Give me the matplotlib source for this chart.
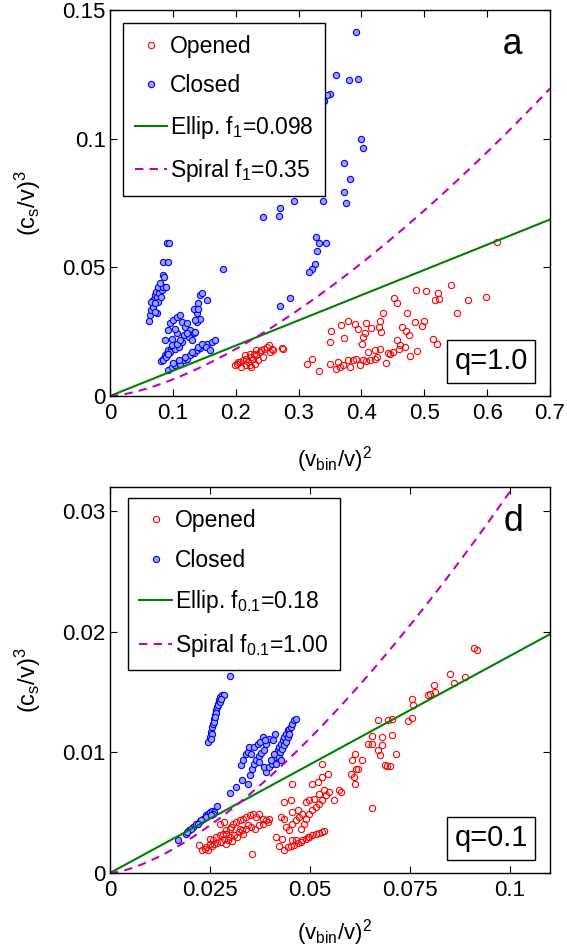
import numpy as np
import matplotlib
matplotlib.use("Agg")
import matplotlib.pyplot as plt
from matplotlib.ticker import FixedLocator, FixedFormatter

# ---------------- panel a (q = 1.0) ----------------
open_a_x = [0.199, 0.2015, 0.207, 0.212, 0.217, 0.220, 0.223, 0.225, 0.229, 0.233, 0.238, 0.241,
            0.245, 0.249, 0.2535, 0.257, 0.260, 0.2545, 0.244, 0.236, 0.231, 0.225, 0.217, 0.209,
            0.204, 0.215, 0.222, 0.228, 0.233, 0.273, 0.275,
            0.313, 0.322, 0.3325, 0.350, 0.362, 0.3595, 0.366, 0.371, 0.379, 0.382, 0.387, 0.392,
            0.398, 0.403, 0.408, 0.414, 0.4215, 0.424, 0.439, 0.445, 0.451, 0.411, 0.4215, 0.430,
            0.456, 0.461, 0.469, 0.477, 0.488, 0.514, 0.520, 0.352, 0.350, 0.367, 0.378, 0.373,
            0.395, 0.390, 0.408, 0.415, 0.403, 0.406, 0.401, 0.430, 0.428, 0.431, 0.434, 0.452,
            0.456, 0.472, 0.487, 0.503, 0.517, 0.522, 0.523, 0.542, 0.5515, 0.570, 0.598, 0.615,
            0.464, 0.471, 0.476, 0.486, 0.500, 0.496, 0.459, 0.443]
open_a_y = [0.0119, 0.0126, 0.0132, 0.0139, 0.0145, 0.0132, 0.0119, 0.0152, 0.0165, 0.0158, 0.0171, 0.0178,
            0.0184, 0.0191, 0.0197, 0.0184, 0.0178, 0.0171, 0.0152, 0.0139, 0.0126, 0.0113, 0.0119, 0.0113,
            0.0132, 0.0158, 0.0165, 0.0145, 0.0178, 0.0187, 0.0184,
            0.0126, 0.0143, 0.0096, 0.0123, 0.0132, 0.0106, 0.0113, 0.0119, 0.0139, 0.0113, 0.0139, 0.0145,
            0.0119, 0.0139, 0.0136, 0.0139, 0.0145, 0.0152, 0.0129, 0.0165, 0.0171, 0.0171, 0.0178, 0.0184,
            0.0217, 0.0197, 0.0191, 0.0155, 0.0175, 0.0223, 0.0201, 0.0253, 0.0210, 0.0275, 0.0292, 0.0227,
            0.0262, 0.0279, 0.0282, 0.0266, 0.0230, 0.0243, 0.0204, 0.0292, 0.0269, 0.0249, 0.0321, 0.0379,
            0.0360, 0.0321, 0.0412, 0.0409, 0.0375, 0.0399, 0.0377, 0.0431, 0.0321, 0.0375, 0.0383, 0.0600,
            0.0269, 0.0252, 0.0239, 0.0288, 0.0291, 0.0271, 0.0184, 0.0168]

closed_a_x = [0.392, 0.360, 0.380, 0.394, 0.350, 0.345, 0.340, 0.338, 0.331, 0.400, 0.402, 0.373,
              0.382, 0.373, 0.375, 0.339, 0.296, 0.276, 0.293, 0.270, 0.269, 0.243,
              0.328, 0.333, 0.343, 0.329, 0.326, 0.322, 0.316, 0.179, 0.270, 0.287,
              0.062, 0.064, 0.066, 0.069, 0.069, 0.072, 0.073, 0.075, 0.078, 0.077, 0.081, 0.082,
              0.074, 0.071, 0.066, 0.072, 0.077, 0.085, 0.080, 0.085, 0.086, 0.089, 0.085, 0.093,
              0.090, 0.094,
              0.081, 0.084, 0.0875, 0.090, 0.093, 0.0965, 0.101, 0.105, 0.110, 0.114, 0.085, 0.089,
              0.0955, 0.103, 0.109, 0.098, 0.106, 0.093,
              0.092, 0.098, 0.103, 0.111, 0.117, 0.122, 0.127, 0.133, 0.138, 0.143, 0.148, 0.155,
              0.162, 0.167, 0.101, 0.109, 0.119, 0.130, 0.1405, 0.146, 0.153, 0.159,
              0.0875, 0.093, 0.0955, 0.101, 0.106, 0.111, 0.114, 0.119, 0.123, 0.127, 0.133, 0.125,
              0.117, 0.106, 0.098, 0.111, 0.103, 0.122, 0.130, 0.135, 0.138, 0.1405, 0.143, 0.146,
              0.134, 0.1405, 0.139, 0.143, 0.154, 0.136]
closed_a_y = [0.1416, 0.1248, 0.1230, 0.1232, 0.1174, 0.1171, 0.1145, 0.1136, 0.1126, 0.0999, 0.0964, 0.0905,
              0.0844, 0.0791, 0.0749, 0.0758, 0.0806, 0.0788, 0.0758, 0.0729, 0.0700, 0.0694,
              0.0617, 0.0596, 0.0594, 0.0564, 0.0512, 0.0495, 0.0482, 0.0492, 0.0351, 0.0382,
              0.0292, 0.0314, 0.0334, 0.0347, 0.0373, 0.0392, 0.0405, 0.0386, 0.0399, 0.0366, 0.0386, 0.0412,
              0.0321, 0.0325, 0.0366, 0.0360, 0.0425, 0.0422, 0.0438, 0.0469, 0.0464, 0.0422, 0.0522, 0.0519,
              0.0594, 0.0594,
              0.0136, 0.0145, 0.0158, 0.0168, 0.0178, 0.0184, 0.0191, 0.0197, 0.0204, 0.0210, 0.0139, 0.0152,
              0.0171, 0.0184, 0.0191, 0.0197, 0.0204, 0.0162,
              0.0100, 0.0113, 0.0119, 0.0126, 0.0139, 0.0145, 0.0158, 0.0168, 0.0178, 0.0188, 0.0197, 0.0204,
              0.0210, 0.0219, 0.0129, 0.0139, 0.0152, 0.0171, 0.0191, 0.0204, 0.0191, 0.0178,
              0.0217, 0.0256, 0.0282, 0.0295, 0.0308, 0.0314, 0.0288, 0.0269, 0.0282, 0.0256, 0.0243, 0.0230,
              0.0236, 0.0243, 0.0223, 0.0217, 0.0262, 0.0243, 0.0217, 0.0249, 0.0321, 0.0360, 0.0392, 0.0399,
              0.0340, 0.0340, 0.0288, 0.0301, 0.0373, 0.0295]

# ---------------- panel d (q = 0.1) ----------------
open_d_x = [0.0222, 0.0231, 0.0241, 0.0249, 0.0257, 0.0266, 0.0274, 0.0282, 0.0290, 0.0299, 0.0307, 0.0315,
            0.0324, 0.0332, 0.0340, 0.0349, 0.0357, 0.0365, 0.0373, 0.0382, 0.0390, 0.0398, 0.0249, 0.0261,
            0.0278, 0.0289, 0.0299, 0.0311, 0.0322, 0.0330, 0.0340, 0.0353, 0.0363, 0.0373, 0.0383, 0.0394,
            0.0237, 0.0245, 0.0256, 0.0267, 0.0284, 0.0295, 0.0305, 0.0317, 0.0332, 0.0344, 0.0355, 0.0274,
            0.0286, 0.0303, 0.0324, 0.0290,
            0.0422, 0.0436, 0.0444, 0.0452, 0.0461, 0.0469, 0.0477, 0.0490, 0.0498, 0.0506, 0.0515, 0.0523,
            0.0531, 0.0535, 0.0455, 0.0465, 0.0481, 0.0494,
            0.0415, 0.0430, 0.0440, 0.0448, 0.0456, 0.0465, 0.0473, 0.0477, 0.0485, 0.0490, 0.0498, 0.0506,
            0.0515, 0.0523, 0.0531, 0.0539, 0.0548, 0.0490, 0.0498, 0.0510, 0.0523, 0.0535, 0.0436, 0.0452,
            0.0456, 0.0471, 0.0481, 0.0506, 0.0519, 0.0531, 0.0544, 0.0436, 0.0427, 0.0456, 0.0531, 0.0560,
            0.0573, 0.0577,
            0.0606, 0.0614, 0.0602, 0.0610, 0.0612, 0.0621, 0.0631, 0.0612, 0.0646, 0.0656, 0.0656, 0.0654,
            0.0671, 0.0674, 0.0680, 0.0679, 0.0687, 0.0693, 0.0699, 0.0705, 0.0714, 0.0671, 0.0695, 0.0704,
            0.0745, 0.0755, 0.0757, 0.0755, 0.0795, 0.0801, 0.0809, 0.0813, 0.0851, 0.0861, 0.0888, 0.0909,
            0.0917]
open_d_y = [0.00229, 0.00188, 0.00215, 0.00243, 0.00271, 0.00298, 0.00312, 0.00326, 0.00354, 0.00367, 0.00409, 0.00423,
            0.00436, 0.00450, 0.00464, 0.00478, 0.00486, 0.00464, 0.00492, 0.00450, 0.00436, 0.00450, 0.00285, 0.00238,
            0.00257, 0.00243, 0.00298, 0.00312, 0.00340, 0.00354, 0.00367, 0.00381, 0.00367, 0.00395, 0.00409, 0.00423,
            0.00202, 0.00188, 0.00221, 0.00249, 0.00285, 0.00271, 0.00265, 0.00298, 0.00326, 0.00395, 0.00160, 0.00409,
            0.00423, 0.00381, 0.00367, 0.00326,
            0.00221, 0.00193, 0.00215, 0.00221, 0.00229, 0.00249, 0.00257, 0.00285, 0.00298, 0.00312, 0.00320, 0.00331,
            0.00340, 0.00348, 0.00271, 0.00276, 0.00271, 0.00298,
            0.00298, 0.00285, 0.00381, 0.00354, 0.00409, 0.00436, 0.00464, 0.00367, 0.00409, 0.00450, 0.00492, 0.00519,
            0.00547, 0.00575, 0.00602, 0.00644, 0.00671, 0.00588, 0.00602, 0.00616, 0.00657, 0.00685, 0.00588, 0.00602,
            0.00506, 0.00519, 0.00492, 0.00740, 0.00754, 0.00796, 0.00823, 0.00450, 0.00464, 0.00740, 0.00906, 0.00602,
            0.00685, 0.00671,
            0.00934, 0.00865, 0.00818, 0.00796, 0.00740, 0.00865, 0.00934, 0.00989, 0.01072, 0.01072, 0.01138, 0.00541,
            0.01017, 0.00975, 0.01058, 0.01127, 0.00892, 0.00884, 0.00884, 0.01141, 0.00983, 0.01271, 0.01271, 0.01279,
            0.01260, 0.01287, 0.01390, 0.01445, 0.01472, 0.01481, 0.01561, 0.01500, 0.01646, 0.01575, 0.01624, 0.01867,
            0.01851]

closed_d_x = [0.0305, 0.0299, 0.02456, 0.02490, 0.02531, 0.02548, 0.02573, 0.02589, 0.02614, 0.02639, 0.02672,
              0.02697, 0.02722, 0.02755, 0.02805, 0.02838, 0.02556, 0.02606, 0.02656, 0.02705, 0.02739, 0.02780,
              0.02515, 0.02631,
              0.0300, 0.0315, 0.0330, 0.0344, 0.0349, 0.0355, 0.0359, 0.0365, 0.0372, 0.0378, 0.0386, 0.0390,
              0.0397, 0.0407, 0.0413, 0.0328, 0.0332, 0.0339, 0.0344, 0.0347, 0.0353, 0.0361, 0.0369, 0.0375,
              0.0382, 0.0388, 0.0390, 0.0384, 0.0373,
              0.0398, 0.0405, 0.0408, 0.0413, 0.0415, 0.0419, 0.0423, 0.0427, 0.0432, 0.0436, 0.0440, 0.0444,
              0.0448, 0.0452, 0.0456, 0.0461, 0.0466, 0.0402, 0.0411, 0.0415, 0.0422, 0.0425, 0.0430, 0.0436,
              0.0440, 0.0444, 0.0448, 0.0427,
              0.0170, 0.0189, 0.0198, 0.0207, 0.0216, 0.0224, 0.0232, 0.0239, 0.0245, 0.0249, 0.0256, 0.0261,
              0.0267, 0.0241, 0.0228, 0.0220, 0.0203, 0.0193, 0.0257, 0.0253]
closed_d_y = [0.01707, 0.01630, 0.01086, 0.01127, 0.01169, 0.01210, 0.01238, 0.01279, 0.01307, 0.01348, 0.01376,
              0.01403, 0.01431, 0.01459, 0.01472, 0.01472, 0.01155, 0.01251, 0.01326, 0.01390, 0.01417, 0.01445,
              0.01113, 0.01293,
              0.00666, 0.00713, 0.00768, 0.00740, 0.00809, 0.00865, 0.00906, 0.00934, 0.00967, 0.00994, 0.01022, 0.01072,
              0.01113, 0.01099, 0.01149, 0.00892, 0.00934, 0.00989, 0.01003, 0.01044, 0.00989, 0.01044, 0.01072, 0.01086,
              0.01127, 0.01105, 0.00837, 0.00878, 0.00920,
              0.00878, 0.00906, 0.00934, 0.00961, 0.00989, 0.01017, 0.01044, 0.01072, 0.01099, 0.01127, 0.01155, 0.01182,
              0.01196, 0.01210, 0.01238, 0.01265, 0.01279, 0.00934, 0.00989, 0.00906, 0.00961, 0.01003, 0.01030, 0.01058,
              0.01086, 0.01127, 0.01155, 0.00934,
              0.00276, 0.00326, 0.00359, 0.00381, 0.00403, 0.00431, 0.00450, 0.00478, 0.00492, 0.00506, 0.00514, 0.00506,
              0.00552, 0.00464, 0.00436, 0.00409, 0.00367, 0.00340, 0.00492, 0.00478]

# model curves: ellip y = f*x, spiral y = A*x^1.5
ellip_f = [0.098, 0.18]
spiral_A = [0.204, 1.0]
ellip_labels = [r'Ellip. $\mathregular{f_1}$=0.098', r'Ellip. $\mathregular{f_{0.1}}$=0.18']
spiral_labels = [r'Spiral $\mathregular{f_1}$=0.35', r'Spiral $\mathregular{f_{0.1}}$=1.00']
q_labels = ['q=1.0', 'q=0.1']
panel_tags = ['a', 'd']
xmax = [0.7, 0.11]
ymax = [0.15, 0.032]
xticks = [[0, 0.1, 0.2, 0.3, 0.4, 0.5, 0.6, 0.7], [0, 0.025, 0.05, 0.075, 0.1]]
xticklabels = [['0', '0.1', '0.2', '0.3', '0.4', '0.5', '0.6', '0.7'], ['0', '0.025', '0.05', '0.075', '0.1']]
yticks = [[0, 0.05, 0.1, 0.15], [0, 0.01, 0.02, 0.03]]
yticklabels = [['0', '0.05', '0.1', '0.15'], ['0', '0.01', '0.02', '0.03']]
legend_anchor = [(0.03, 0.966), (0.041, 0.9715)]
xlabel_y = [-0.125, -0.115]

plt.rcParams.update({
    "font.family": "Liberation Sans",
    "mathtext.fontset": "custom",
    "mathtext.rm": "Liberation Sans",
    "xtick.direction": "in",
    "ytick.direction": "in",
    "xtick.top": True,
    "ytick.right": True,
    "xtick.labelsize": 16,
    "ytick.labelsize": 16,
    "xtick.major.size": 5,
    "ytick.major.size": 5,
    "xtick.major.pad": 5,
    "ytick.major.pad": 3,
    "axes.linewidth": 1.0,
})

fig = plt.figure(figsize=(5.67, 9.49), dpi=100)
ax_a = fig.add_axes([0.194, 0.5827, 0.776, 0.4067])
ax_d = fig.add_axes([0.194, 0.0801, 0.776, 0.4067])

data = [(open_a_x, open_a_y, closed_a_x, closed_a_y), (open_d_x, open_d_y, closed_d_x, closed_d_y)]

for i, ax in enumerate([ax_a, ax_d]):
    ox, oy, cx, cy = data[i]
    h_open, = ax.plot(ox, oy, 'o', ls='none', mfc='none', mec='red', ms=4.5, mew=0.8)
    h_closed, = ax.plot(cx, cy, 'o', ls='none', mfc='#9aa4ff', mec='blue', ms=4.5, mew=0.8)
    xx = np.linspace(0, xmax[i], 200)
    h_el, = ax.plot(xx, ellip_f[i] * xx, color=(0, 0.5, 0), lw=1.5)
    h_sp, = ax.plot(xx, spiral_A[i] * xx ** 1.5, color=(0.75, 0, 0.75), lw=1.5, ls=(0, (4, 3)))
    ax.set_xlim(0, xmax[i])
    ax.set_ylim(0, ymax[i])
    ax.xaxis.set_major_locator(FixedLocator(xticks[i]))
    ax.xaxis.set_major_formatter(FixedFormatter(xticklabels[i]))
    ax.yaxis.set_major_locator(FixedLocator(yticks[i]))
    ax.yaxis.set_major_formatter(FixedFormatter(yticklabels[i]))
    ax.set_xlabel(r'$\mathregular{(v_{bin}/v)^2}$', fontsize=16, va='top')
    ax.xaxis.set_label_coords(0.51, xlabel_y[i])
    ax.set_ylabel(r'$\mathregular{(c_s/v)^3}$', fontsize=17)
    ax.yaxis.set_label_coords(-0.152, 0.5)
    leg = ax.legend([h_open, h_closed, h_el, h_sp], ['Opened', 'Closed', ellip_labels[i], spiral_labels[i]],
                    loc='upper left', bbox_to_anchor=legend_anchor[i], fontsize=16.5, numpoints=1,
                    fancybox=False, framealpha=1, edgecolor='black', handlelength=1.4,
                    handletextpad=0.15, labelspacing=0.72, borderpad=0.5, borderaxespad=0)
    leg.get_frame().set_linewidth(1.0)
    ax.text(0.866, 0.09, q_labels[i], transform=ax.transAxes, fontsize=21, ha='center', va='center',
            bbox=dict(boxstyle='square,pad=0.25', fc='white', ec='black', lw=1.0))
    ax.text(0.916, 0.91, panel_tags[i], transform=ax.transAxes, fontsize=26, ha='center', va='center',
            family='Liberation Mono')

fig.savefig('out.png', dpi=100, facecolor='white')
